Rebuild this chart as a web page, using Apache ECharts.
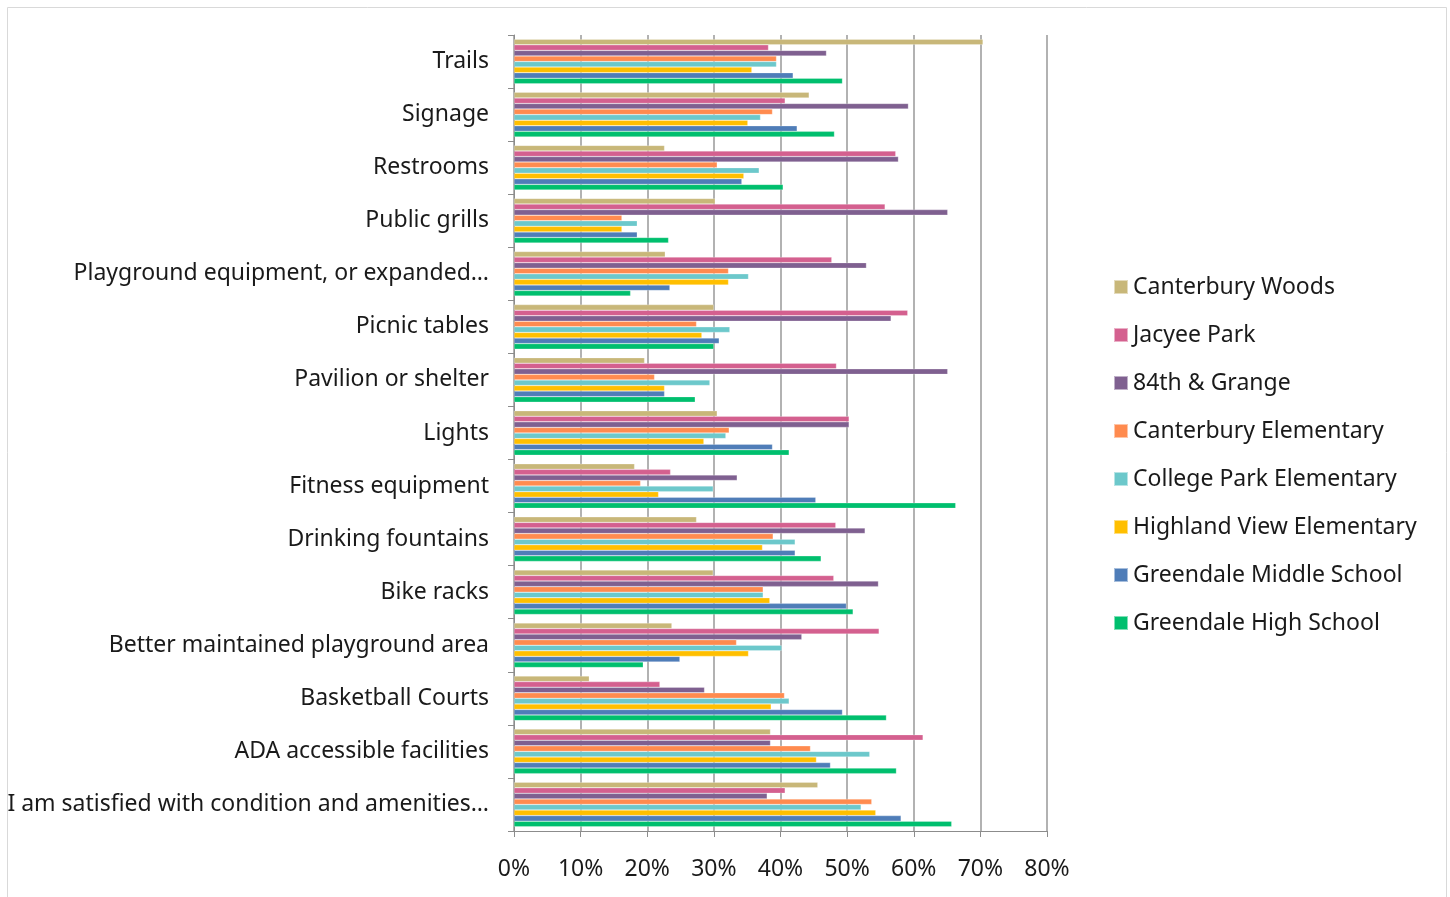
<!DOCTYPE html>
<html>
<head>
<meta charset="utf-8">
<script src="https://cdn.jsdelivr.net/npm/echarts@6/dist/echarts.min.js"></script>
<style>
html,body{margin:0;padding:0;background:#fff;}
#chart{width:1450px;height:897px;}
</style>
</head>
<body>
<div id="chart"></div>
<script>
const categories = [
  "Trails", "Signage", "Restrooms", "Public grills",
  "Playground equipment, or expanded…", "Picnic tables", "Pavilion or shelter",
  "Lights", "Fitness equipment", "Drinking fountains", "Bike racks",
  "Better maintained playground area", "Basketball Courts",
  "ADA accessible facilities", "I am satisfied with condition and amenities…"
];
const seriesNames = [
  "Canterbury Woods", "Jacyee Park", "84th & Grange", "Canterbury Elementary",
  "College Park Elementary", "Highland View Elementary", "Greendale Middle School",
  "Greendale High School"
];
const canterburyWoods     = [70.4, 44.3, 22.6, 30.2, 22.7, 30.0, 19.6, 30.5, 18.1, 27.4, 29.9, 23.7, 11.3, 38.5, 45.6];
const jacyeePark          = [38.2, 40.7, 57.3, 55.7, 47.7, 59.1, 48.4, 50.3, 23.5, 48.3, 48.0, 54.8, 21.9, 61.4, 40.7];
const grange84th          = [46.9, 59.2, 57.7, 65.1, 52.9, 56.6, 65.1, 50.3, 33.5, 52.7, 54.7, 43.2, 28.6, 38.5, 38.0];
const canterburyElem      = [39.4, 38.8, 30.5, 16.2, 32.2, 27.4, 21.1, 32.3, 19.0, 38.9, 37.4, 33.4, 40.6, 44.5, 53.7];
const collegeParkElem     = [39.4, 37.0, 36.8, 18.5, 35.2, 32.4, 29.4, 31.8, 29.9, 42.2, 37.4, 40.2, 41.3, 53.4, 52.1];
const highlandViewElem    = [35.7, 35.1, 34.5, 16.2, 32.2, 28.2, 22.6, 28.5, 21.7, 37.3, 38.4, 35.2, 38.6, 45.4, 54.3];
const greendaleMiddle     = [41.9, 42.5, 34.2, 18.5, 23.4, 30.8, 22.6, 38.8, 45.3, 42.2, 49.9, 24.9, 49.3, 47.5, 58.1];
const greendaleHigh       = [49.3, 48.1, 40.4, 23.2, 17.5, 30.0, 27.2, 41.3, 66.3, 46.1, 50.9, 19.4, 55.9, 57.4, 65.7];
const xTicks = [0, 10, 20, 30, 40, 50, 60, 70, 80];

const allData = [canterburyWoods, jacyeePark, grange84th, canterburyElem,
  collegeParkElem, highlandViewElem, greendaleMiddle, greendaleHigh];
const colors = ['#C8B779', '#D4608F', '#7F6090', '#FF8B4F', '#6CC8CB', '#FFBF00', '#4F7DB8', '#00BF6E'];

const font = 'Noto Sans';
const fs = 23;
const chart = echarts.init(document.getElementById('chart'), null, {renderer: 'canvas'});
chart.setOption({
  animation: false,
  color: colors,
  textStyle: {fontFamily: font},
  graphic: [{
    type: 'rect', silent: true,
    shape: {x: 7.5, y: 7.5, width: 1439, height: 905},
    style: {fill: 'none', stroke: '#d9d9d9', lineWidth: 1}
  }],
  grid: {left: 514, right: 403, top: 35, bottom: 66, containLabel: false},
  legend: {
    orient: 'vertical', left: 1108, top: 269,
    itemWidth: 14, itemHeight: 14, itemGap: 22,
    icon: 'rect',
    textStyle: {fontFamily: font, fontSize: fs, color: '#1a1a1a', lineHeight: 26},
    data: seriesNames
  },
  xAxis: {
    type: 'value', min: 0, max: 80, interval: 10,
    axisLine: {show: true, lineStyle: {color: '#8c8c8c', width: 1}},
    axisTick: {show: true, length: 6, lineStyle: {color: '#8c8c8c'}},
    splitLine: {show: true, lineStyle: {color: '#999999', width: 1.5}},
    axisLabel: {
      fontFamily: font, fontSize: fs, color: '#1a1a1a', margin: 27,
      formatter: function (v) { return xTicks.indexOf(v) >= 0 ? v + '%' : ''; }
    }
  },
  yAxis: {
    type: 'category', inverse: true, data: categories,
    axisLine: {show: true, lineStyle: {color: '#8c8c8c', width: 1}},
    axisTick: {show: true, length: 6, lineStyle: {color: '#8c8c8c'}},
    axisLabel: {fontFamily: font, fontSize: fs, color: '#1a1a1a', margin: 25}
  },
  series: seriesNames.map(function (name, i) {
    return {
      name: name, type: 'bar', data: allData[i],
      barGap: '0%', barCategoryGap: '16%',
      itemStyle: {borderColor: 'rgba(255,255,255,0.5)', borderWidth: 0.5}
    };
  })
});
</script>
</body>
</html>
